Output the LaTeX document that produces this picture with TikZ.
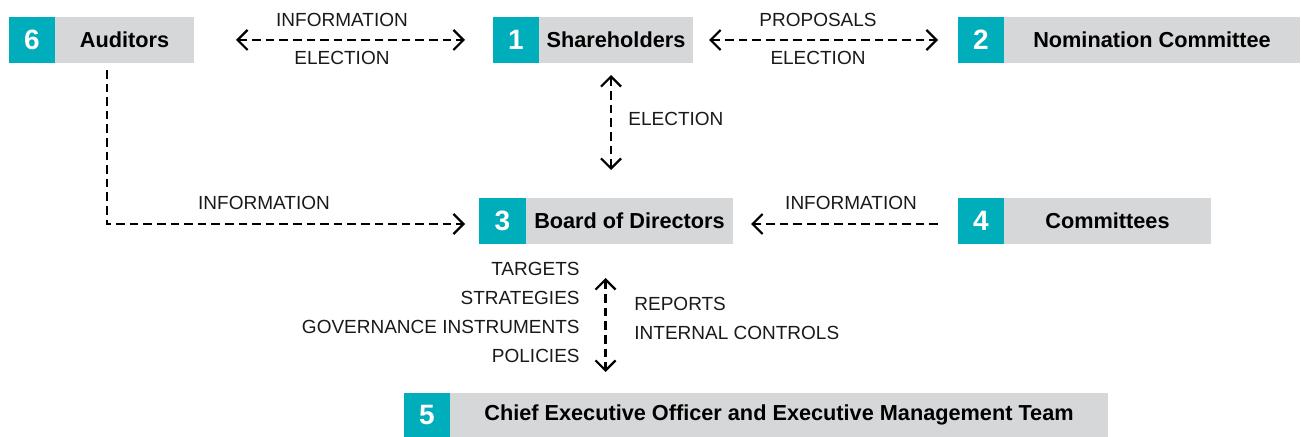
\documentclass[tikz,border=0pt]{standalone}
\usepackage{fontspec}
\setmainfont{Liberation Sans}
\usetikzlibrary{arrows.meta,calc}
\definecolor{tealbox}{RGB}{0,173,187}
\definecolor{greybox}{RGB}{214,215,217}
\tikzset{
  numbox/.style={fill=tealbox, text=white, font=\bfseries\fontsize{14}{16}\selectfont,
    minimum height=23pt, inner sep=0pt, outer sep=0pt, anchor=north west},
  labbox/.style={fill=greybox, text=black, font=\bfseries\fontsize{10.85}{13}\selectfont,
    minimum height=23pt, inner sep=0pt, outer sep=0pt, anchor=north west},
  tipb/.tip={Straight Barb[length=5pt,width=10pt,line width=1.1pt]},
  conn/.style={line width=1.3pt, dash pattern=on 4.3pt off 2.5pt, tipb-tipb},
  connr/.style={line width=1.3pt, dash pattern=on 4.3pt off 2.5pt, -tipb},
  lbl/.style={font=\fontsize{9.5}{11}\selectfont, inner sep=0pt, text=black!90}
}
\begin{document}
\begin{tikzpicture}[x=0.5pt,y=-0.5pt]
\useasboundingbox (0,0) rectangle (1301,437);
% boxes
\node[numbox, minimum width=23pt] (n6) at (9,17) {6};
\node[labbox, minimum width=69.5pt] (l6) at (55,17) {Auditors};
\node[numbox, minimum width=23pt] (n1) at (493,17) {1};
\node[labbox, minimum width=77pt] (l1) at (539,17) {Shareholders};
\node[numbox, minimum width=23pt] (n2) at (958,17) {2};
\node[labbox, minimum width=148pt] (l2) at (1004,17) {Nomination Committee};
\node[numbox, minimum width=23.5pt] (n3) at (479,198) {3};
\node[labbox, minimum width=103.5pt] (l3) at (526,198) {Board of Directors};
\node[numbox, minimum width=23pt] (n4) at (958,198) {4};
\node[labbox, minimum width=103.5pt] (l4) at (1004,198) {Committees};
\node[numbox, minimum width=23pt, minimum height=22pt] (n5) at (404,393) {5};
\node[labbox, minimum width=329pt, minimum height=22pt] (l5) at (450,393) {Chief Executive Officer and Executive Management Team};
% connectors
\draw[conn] ($(l6.east)+(42,0)$) -- ($(n1.west)+(-28,0)$);
\draw[conn] ($(l1.east)+(16,0)$) -- ($(n2.west)+(-20,0)$);
\draw[conn] ($(l1.south)+(-5,12)$) -- ($(l1.south |- l3.north)+(-5,-28)$);
\draw[connr] ($(l6.south)+(-17.5,7)$) |- ($(n3.west)+(-14,3)$);
\draw[connr] ($(n4.west)+(-20,3)$) -- ($(l3.east)+(18,3)$);
\draw[conn] ($(l3.south)+(-24,34)$) -- ($(l3.south |- l5.north)+(-24,-21)$);
% labels
\node[lbl] (t1) at (342,20) {INFORMATION};
\node[lbl] (t2) at (342,58) {ELECTION};
\node[lbl] (t3) at (818,20) {PROPOSALS};
\node[lbl] (t4) at (818,58) {ELECTION};
\node[lbl, anchor=west] (t5) at (628,119) {ELECTION};
\node[lbl] (t6) at (264,203) {INFORMATION};
\node[lbl] (t7) at (851,203) {INFORMATION};
\node[lbl, anchor=east] (t8) at (580,269) {TARGETS};
\node[lbl, anchor=east] (t9) at (580,298) {STRATEGIES};
\node[lbl, anchor=east] (t10) at (580,327) {GOVERNANCE INSTRUMENTS};
\node[lbl, anchor=east] (t11) at (580,356) {POLICIES};
\node[lbl, anchor=west] (t12) at (634,304) {REPORTS};
\node[lbl, anchor=west] (t13) at (634,333) {INTERNAL CONTROLS};
\end{tikzpicture}
\end{document}
